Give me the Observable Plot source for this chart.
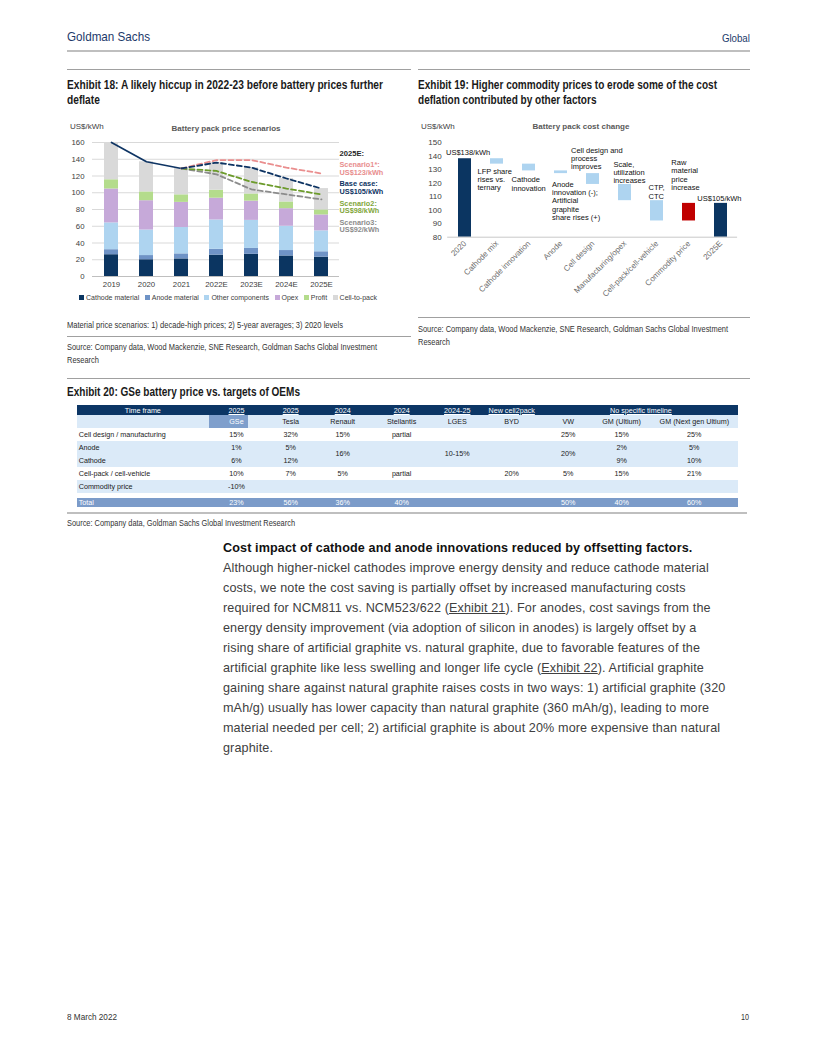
<!DOCTYPE html>
<html><head><meta charset="utf-8">
<script src="https://cdn.jsdelivr.net/npm/d3@7"></script>
<script src="https://cdn.jsdelivr.net/npm/@observablehq/plot@0.6"></script>
<style>
html,body{margin:0;padding:0;background:#fff;}
#page{position:relative;width:816px;height:1056px;overflow:hidden;font-family:"Liberation Sans",Arial,sans-serif;color:#262626;}
.abs{position:absolute;white-space:nowrap;}
.rule{position:absolute;height:0;border-top:1.5px solid #a0a0a0;}
.etitle{font-weight:bold;font-size:12px;line-height:15px;color:#1a1a1a;}
.src{font-size:8.8px;line-height:13px;color:#333;}
.ctitle{font-size:8px;line-height:10px;color:#595959;font-weight:bold;}
.cunit{font-size:8px;line-height:10px;color:#404040;}
#legend18{display:flex;align-items:center;font-size:7px;color:#404040;}
#legend18 .it{display:flex;align-items:center;margin-right:5.5px;}
#legend18 .sw{width:5px;height:5px;margin-right:2px;}
#tbl{position:absolute;left:76.7px;top:405px;border-collapse:collapse;table-layout:fixed;font-size:7.2px;color:#1a1a1a;}
#tbl td{padding:0;text-align:center;white-space:nowrap;overflow:hidden;}
#tbl td.lab{text-align:left;padding-left:2px;}
#tbl tr.h1 td{background:#0c3665;color:#fff;height:10px;}
#tbl tr.h1 td u{text-decoration:underline;}
#tbl tr.h2 td{background:#dbeaf8;height:12.7px;}
#tbl tr.h2 td.gse{background:linear-gradient(to right,#7f9fcc 0,#7f9fcc 39px,#dbeaf8 39px);color:#fff;}
#tbl tr.w td{background:#fff;}
#tbl tr.b td{background:#dbeaf8;}
#tbl tr.tot td{background:#7b9bc9;color:#fff;height:9.3px;}
#tbl tr.gap td{height:4.7px;background:#fff;}
#body{position:absolute;left:223px;top:538px;font-size:12.6px;line-height:20px;color:#404040;letter-spacing:0.12px;}
#body div{white-space:nowrap;}
#body .hd{font-weight:bold;color:#111;}
</style></head><body><div id="page">
<div class="abs" data-w="83" style="left:67px;top:30px;font-size:13.5px;line-height:14px;color:#1d3a6b;">Goldman Sachs</div>
<div class="abs" data-w="28" data-r="1" style="right:66px;top:32px;font-size:10px;line-height:14px;color:#1d3a6b;">Global</div>
<div class="rule" style="left:67px;top:50px;width:683px;border-top:2px solid #bfbfbf;"></div>

<div class="rule" style="left:67px;top:69px;width:344px;"></div>
<div class="rule" style="left:418px;top:69px;width:332px;"></div>
<div class="abs etitle" data-w="316" style="left:67px;top:77.5px;">Exhibit 18: A likely hiccup in 2022-23 before battery prices further<br>deflate</div>
<div class="abs etitle" data-w="299" style="left:418px;top:77.5px;">Exhibit 19: Higher commodity prices to erode some of the cost<br>deflation contributed by other factors</div>

<div class="abs cunit" style="left:70px;top:122px;">US$/kWh</div>
<div class="abs ctitle" style="left:126px;width:200px;text-align:center;top:124px;">Battery pack price scenarios</div>
<div id="chart18" class="abs" style="left:60px;top:115px;"></div>
<div id="legend18" class="abs" style="left:79px;top:292px;height:10px;"></div>

<div class="abs cunit" style="left:421px;top:121.5px;">US$/kWh</div>
<div class="abs ctitle" style="left:481px;width:200px;text-align:center;top:121.5px;">Battery pack cost change</div>
<div id="chart19" class="abs" style="left:415px;top:115px;"></div>

<div class="abs src" data-w="276" style="left:67px;top:318.5px;">Material price scenarios: 1) decade-high prices; 2) 5-year averages; 3) 2020 levels</div>
<div class="rule" style="left:67px;top:335.5px;width:344px;"></div>
<div class="abs src" data-w="310" style="left:67px;top:340.5px;">Source: Company data, Wood Mackenzie, SNE Research, Goldman Sachs Global Investment<br>Research</div>
<div class="rule" style="left:418px;top:316.5px;width:332px;"></div>
<div class="abs src" data-w="310" style="left:418px;top:322.5px;">Source: Company data, Wood Mackenzie, SNE Research, Goldman Sachs Global Investment<br>Research</div>

<div class="rule" style="left:67px;top:377.5px;width:683px;"></div>
<div class="abs etitle" data-w="233" style="left:67px;top:384.5px;">Exhibit 20: GSe battery price vs. targets of OEMs</div>
<table id="tbl"></table>
<div class="rule" style="left:67px;top:511.5px;width:680px;border-top:2px solid #bfbfbf;"></div>
<div class="abs src" data-w="228" style="left:67px;top:516.5px;">Source: Company data, Goldman Sachs Global Investment Research</div>

<div id="body">
<div class="hd">Cost impact of cathode and anode innovations reduced by offsetting factors.</div>
<div>Although higher-nickel cathodes improve energy density and reduce cathode material</div>
<div>costs, we note the cost saving is partially offset by increased manufacturing costs</div>
<div>required for NCM811 vs. NCM523/622 (<u>Exhibit 21</u>). For anodes, cost savings from the</div>
<div>energy density improvement (via adoption of silicon in anodes) is largely offset by a</div>
<div>rising share of artificial graphite vs. natural graphite, due to favorable features of the</div>
<div>artificial graphite like less swelling and longer life cycle (<u>Exhibit 22</u>). Artificial graphite</div>
<div>gaining share against natural graphite raises costs in two ways: 1) artificial graphite (320</div>
<div>mAh/g) usually has lower capacity than natural graphite (360 mAh/g), leading to more</div>
<div>material needed per cell; 2) artificial graphite is about 20% more expensive than natural</div>
<div>graphite.</div>
</div>

<div class="abs" data-w="50" style="left:67px;top:1011px;font-size:9px;line-height:12px;color:#333;">8 March 2022</div>
<div class="abs" data-w="8" data-r="1" style="right:67px;top:1011px;font-size:9px;line-height:12px;color:#333;">10</div>
</div>
<script>
// ---------- Exhibit 18 data ----------
const years = ["2019","2020","2021","2022E","2023E","2024E","2025E"];
const components = ["Cathode material","Anode material","Other components","Opex","Profit","Cell-to-pack"];
const cathodeMaterial = [26, 20, 21, 25.5, 26.5, 24.5, 23];
const anodeMaterial   = [6, 5, 6, 7, 7, 6.5, 6.5];
const otherComponents = [32, 30.5, 31.5, 35, 33.5, 29, 25];
const opex            = [40.5, 35, 30, 26, 23, 21, 19];
const profit          = [11, 10.5, 9, 9.5, 8.5, 8, 6];
const cellToPack      = [44.5, 36, 31.5, 33, 31.5, 28, 25.5];
const yTicks18 = [0, 20, 40, 60, 80, 100, 120, 140, 160];
const histYears = ["2019","2020","2021"];
const histPrice = [160, 137, 129];
const scenYears = ["2021","2022E","2023E","2024E","2025E"];
const scenarioNames = ["Scenario3:","Scenario2:","Scenario1*:","Base case:"];
const scenario3 = [129, 122, 104, 98, 92];
const scenario2 = [129, 126, 113, 105, 98];
const scenario1 = [129, 139, 139, 130, 123];
const baseCase  = [129, 136, 130, 117, 105];

// ---------- Exhibit 19 data ----------
const wfCats = ["2020","Cathode mix","Cathode innovation","Anode","Cell design","Manufacturing/opex","Cell-pack/cell-vehicle","Commodity price","2025E"];
const wfStart = 138;
const wfDeltas = [-4, -5, -2, -8, -12, -15, 13];
const wfEnd = 105;
const yTicks19 = [80, 90, 100, 110, 120, 130, 140, 150];
const wfNotes = ["US$138/kWh","LFP share\nrises vs.\nternary","Cathode\ninnovation","Anode\ninnovation (-);\nArtificial\ngraphite\nshare rises (+)","Cell design and\nprocess\nimproves","Scale,\nutilization\nincreases","CTP,\nCTC","Raw\nmaterial\nprice\nincrease","US$105/kWh"];

// ---------- Exhibit 20 data ----------
const timeFrames = ["2025","2025","2024","2024","2024-25","New cell2pack","No specific timeline"];
const players = ["GSe","Tesla","Renault","Stellantis","LGES","BYD","VW","GM (Ultium)","GM (Next gen Ultium)"];
const rowLabels = ["Cell design / manufacturing","Anode","Cathode","Cell-pack / cell-vehicle","Commodity price","Total"];
const rowCellDesign = ["15%","32%","15%","partial","","","25%","15%","25%"];
const rowAnode      = ["1%","5%","16%","","10-15%","","20%","2%","5%"];
const rowCathode    = ["6%","12%",null,"",null,"",null,"9%","10%"];
const rowCellPack   = ["10%","7%","5%","partial","","20%","5%","15%","21%"];
const rowCommodity  = ["-10%","","","","","","","",""];
const rowTotal      = ["23%","56%","36%","40%","","","50%","40%","60%"];

// ---------- fit condensed texts ----------
document.querySelectorAll("[data-w]").forEach(el => {
  const w = el.getBoundingClientRect().width;
  const k = (+el.dataset.w) / w;
  el.style.transformOrigin = el.dataset.r ? "right top" : "left top";
  el.style.transform = "scaleX(" + k + ")";
});

// ---------- Chart 18 ----------
const compColors = ["#0b3561","#6f93c6","#aed4f0","#c6a9d9","#b4dc8c","#d9d9d9"];
const compSeries = [cathodeMaterial, anodeMaterial, otherComponents, opex, profit, cellToPack];
const stacked = [];
components.forEach((c, i) => years.forEach((y, j) => stacked.push({year: y, comp: c, v: compSeries[i][j]})));
const toPts = (xs, vs) => xs.map((x, i) => ({year: x, v: vs[i]}));
const scenSeries = [scenario3, scenario2, scenario1, baseCase];
const scenColors = ["#8c8c8c", "#6c9b2b", "#ea8e8e", "#0e3463"];
const scenTextColors = ["#8c8c8c", "#7fa63a", "#e88d8d", "#0e3463"];
const font = "Liberation Sans, Arial, sans-serif";

const annot18 = [];
annot18.push(Plot.text(["2025E:"], {frameAnchor: "top-right", text: d => d, textAnchor: "start", dx: 0, dy: 8, fontWeight: "bold", fill: "#262626", fontSize: 7.6}));
const order = [2, 3, 1, 0];
order.forEach((k, r) => {
  const last = scenSeries[k][scenSeries[k].length - 1];
  annot18.push(Plot.text([scenarioNames[k] + "\nUS$" + last + "/kWh"], {
    frameAnchor: "top-right", text: d => d, textAnchor: "start", lineAnchor: "top",
    dx: 0, dy: 19 + r * 19.3, lineHeight: 1.05, fontWeight: "bold", fill: scenTextColors[k], fontSize: 7.3
  }));
});

const p18 = Plot.plot({
  width: 355, height: 180,
  marginLeft: 32, marginRight: 76, marginTop: 27, marginBottom: 19,
  style: {fontFamily: font, fontSize: "7.8px", color: "#404040", background: "transparent", overflow: "visible"},
  x: {domain: years, paddingInner: 0.6, paddingOuter: 0.28, tickSize: 0, tickPadding: 5, label: null},
  y: {domain: [0, 160], ticks: yTicks18, tickSize: 0, tickPadding: 8, label: null},
  color: {domain: components, range: compColors},
  marks: [
    Plot.ruleY(yTicks18.slice(1), {stroke: "#d9d9d9", strokeWidth: 1}),
    Plot.barY(stacked, {x: "year", y: "v", fill: "comp"}),
    Plot.ruleY([0], {stroke: "#bfbfbf", strokeWidth: 1}),
    Plot.line(toPts(histYears, histPrice), {x: "year", y: "v", stroke: "#0e3463", strokeWidth: 1.7}),
    ...scenSeries.map((s, i) => Plot.line(toPts(scenYears, s), {x: "year", y: "v", stroke: scenColors[i], strokeWidth: 1.8, strokeDasharray: "5,3"})),
    ...annot18
  ]
});
document.getElementById("chart18").appendChild(p18);

const lg = document.getElementById("legend18");
components.forEach((c, i) => {
  const it = document.createElement("div"); it.className = "it";
  const sw = document.createElement("div"); sw.className = "sw"; sw.style.background = compColors[i];
  const tx = document.createElement("span"); tx.textContent = c;
  it.appendChild(sw); it.appendChild(tx); lg.appendChild(it);
});

// ---------- Chart 19 ----------
let run = wfStart;
const wf = wfCats.map((c, i) => {
  if (i === 0) return {cat: c, y1: 0, y2: wfStart, kind: "total"};
  if (i === wfCats.length - 1) return {cat: c, y1: 0, y2: wfEnd, kind: "total"};
  const d = wfDeltas[i - 1];
  const o = {cat: c, y1: run, y2: run + d, kind: d < 0 ? "down" : "up"};
  run += d;
  return o;
});
const noteStyle = [
  {above: true,  dx: -19,  dy: -3.5},
  {above: false, dx: -19.5, dy: 4},
  {above: false, dx: -17.4, dy: 5.5},
  {above: false, dx: -9,   dy: 7.5},
  {above: true,  dx: -22,  dy: -4.3},
  {above: true,  dx: -11.6, dy: -1},
  {above: true,  dx: -8.5, dy: -2},
  {above: true,  dx: -17.7, dy: -13.5},
  {above: true,  dx: -23.7, dy: -2.5}
];
const notes19 = wf.map((d, i) => Plot.text([d], {
  x: "cat",
  y: e => noteStyle[i].above ? Math.max(e.y1, e.y2) : Math.min(e.y1, e.y2),
  text: () => wfNotes[i],
  textAnchor: "start", lineAnchor: noteStyle[i].above ? "bottom" : "top",
  dx: noteStyle[i].dx, dy: noteStyle[i].dy, lineHeight: 1.1,
  fill: "#111", fontSize: 7.5
}));

const p19 = Plot.plot({
  width: 340, height: 200,
  marginLeft: 32.2, marginRight: 17.9, marginTop: 27, marginBottom: 78.3,
  style: {fontFamily: font, fontSize: "8px", color: "#404040", background: "transparent", overflow: "visible"},
  x: {domain: wfCats, paddingInner: 0.59, paddingOuter: 0.295, tickSize: 0, tickPadding: 5, tickRotate: -45, label: null},
  y: {domain: [80, 150], ticks: yTicks19, tickSize: 0, tickPadding: 6, label: null},
  color: {domain: ["total", "down", "up"], range: ["#0b3561", "#aed4f0", "#c00000"]},
  marks: [
    Plot.barY(wf, {x: "cat", y1: "y1", y2: "y2", fill: "kind", clip: true}),
    Plot.ruleY([80], {stroke: "#c8c8c8", strokeWidth: 1}),
    ...notes19
  ]
});
p19.querySelectorAll("g[aria-label='x-axis'] text, g[aria-label='x-axis tick label'] text").forEach(t => t.setAttribute("fill", "#6b6b6b"));
document.getElementById("chart19").appendChild(p19);

// ---------- Table ----------
const colW = [132.3, 55, 53.4, 50.6, 67.4, 43.8, 65, 48.2, 58.6, 86.7];
const tbl = document.getElementById("tbl");
const cg = document.createElement("colgroup");
colW.forEach(w => { const c = document.createElement("col"); c.style.width = w + "px"; cg.appendChild(c); });
tbl.appendChild(cg);
tbl.style.width = colW.reduce((a, b) => a + b, 0) + "px";
function addRow(cls, cells) {
  const tr = document.createElement("tr"); tr.className = cls;
  cells.forEach(c => {
    const td = document.createElement("td");
    if (c.html !== undefined) td.innerHTML = c.html; else td.textContent = c.t ?? "";
    if (c.cls) td.className = c.cls;
    if (c.cs) td.colSpan = c.cs;
    if (c.rs) td.rowSpan = c.rs;
    if (c.h) td.style.height = c.h + "px";
    tr.appendChild(td);
  });
  tbl.appendChild(tr);
}
addRow("h1", [{t: "Time frame"}, ...timeFrames.map((t, i) => ({html: "<u>" + t + "</u>", cs: i === timeFrames.length - 1 ? 3 : 1}))]);
addRow("h2", [{t: ""}, ...players.map((p, i) => ({t: p, cls: i === 0 ? "gse" : ""}))]);
addRow("w", [{t: rowLabels[0], cls: "lab", h: 13}, ...rowCellDesign.map(v => ({t: v}))]);
addRow("b", [{t: rowLabels[1], cls: "lab", h: 13.15}, ...rowAnode.map((v, i) => ({t: v, rs: rowCathode[i] === null ? 2 : 1}))]);
addRow("b", [{t: rowLabels[2], cls: "lab", h: 13.15}, ...rowCathode.filter(v => v !== null).map(v => ({t: v}))]);
addRow("w", [{t: rowLabels[3], cls: "lab", h: 13.3}, ...rowCellPack.map(v => ({t: v}))]);
addRow("b", [{t: rowLabels[4], cls: "lab", h: 13}, ...rowCommodity.map(v => ({t: v}))]);
addRow("gap", [{t: "", cs: 10}]);
addRow("tot", [{t: rowLabels[5], cls: "lab"}, ...rowTotal.map(v => ({t: v}))]);
</script>
</body></html>
